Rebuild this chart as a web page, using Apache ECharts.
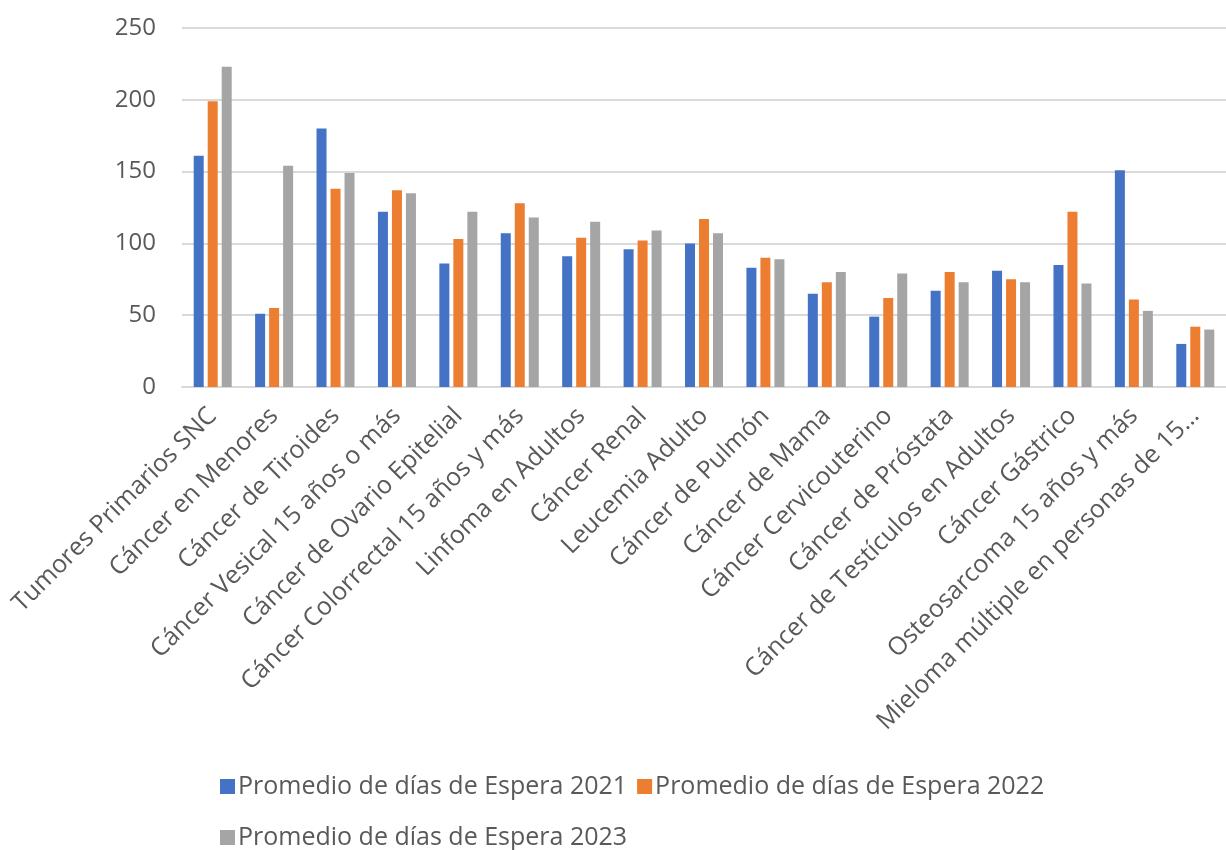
<!DOCTYPE html>
<html>
<head>
<meta charset="utf-8">
<script src="https://cdn.jsdelivr.net/npm/echarts@6/dist/echarts.min.js"></script>
<style>
  * { margin: 0; padding: 0; }
  body { background: #fff; }
</style>
</head>
<body>
<div id="main" style="width: 1226px; height: 850px;"></div>
<script>
  // categorias (eje x)
  var categorias = [
    'Tumores Primarios SNC', 'Cáncer en Menores', 'Cáncer de Tiroides',
    'Cáncer Vesical 15 años o más', 'Cáncer de Ovario Epitelial',
    'Cáncer Colorrectal 15 años y más', 'Linfoma en Adultos', 'Cáncer Renal',
    'Leucemia Adulto', 'Cáncer de Pulmón', 'Cáncer de Mama',
    'Cáncer Cervicouterino', 'Cáncer de Próstata', 'Cáncer de Testículos en Adultos',
    'Cáncer Gástrico', 'Osteosarcoma 15 años y más', 'Mieloma múltiple en personas de 15…'
  ]
  var nombres = ['Promedio de días de Espera 2021', 'Promedio de días de Espera 2022', 'Promedio de días de Espera 2023']
  var espera2021 = [161, 51, 180, 122, 86, 107, 91, 96, 100, 83, 65, 49, 67, 81, 85, 151, 30]
  var espera2022 = [199, 55, 138, 137, 103, 128, 104, 102, 117, 90, 73, 62, 80, 75, 122, 61, 42]
  var espera2023 = [223, 154, 149, 135, 122, 118, 115, 109, 107, 89, 80, 79, 73, 73, 72, 53, 40]
  var ticksY = [0, 50, 100, 150, 200, 250]

  var fuente = 'Open Sans'
  var gris = '#595959'

  var chart = echarts.init(document.getElementById('main'))
  chart.setOption({
    animation: false,
    color: ['#4472C4', '#ED7D31', '#A5A5A5'],
    textStyle: { fontFamily: fuente },
    grid: { left: 182, right: -10, top: 28, bottom: 463, containLabel: false },
    legend: [
      {
        data: [nombres[0], nombres[1]],
        left: 215, top: 769,
        icon: 'rect', itemWidth: 15, itemHeight: 15, itemGap: 10,
        textStyle: { fontSize: 25, color: gris, fontFamily: fuente, padding: [0, 0, 0, -2] }
      },
      {
        data: [nombres[2]],
        left: 215, top: 820,
        icon: 'rect', itemWidth: 15, itemHeight: 15, itemGap: 10,
        textStyle: { fontSize: 25, color: gris, fontFamily: fuente, padding: [0, 0, 0, -2] }
      }
    ],
    xAxis: {
      type: 'category',
      data: categorias,
      axisTick: { show: false },
      axisLine: { lineStyle: { color: '#d9d9d9', width: 2 } },
      axisLabel: {
        interval: 0, rotate: 45, margin: 25,
        fontSize: 25, color: gris, fontFamily: fuente
      }
    },
    yAxis: {
      type: 'value',
      min: ticksY[0], max: ticksY[ticksY.length - 1], interval: 50,
      axisLine: { show: false },
      axisTick: { show: false },
      splitLine: { lineStyle: { color: '#d9d9d9', width: 2 } },
      axisLabel: { margin: 26, fontSize: 24, color: gris, fontFamily: fuente }
    },
    series: [
      { name: nombres[0], type: 'bar', data: espera2021, barWidth: 10, barGap: '40%' },
      { name: nombres[1], type: 'bar', data: espera2022, barWidth: 10, barGap: '40%' },
      { name: nombres[2], type: 'bar', data: espera2023, barWidth: 10, barGap: '40%' }
    ]
  })
</script>
</body>
</html>
